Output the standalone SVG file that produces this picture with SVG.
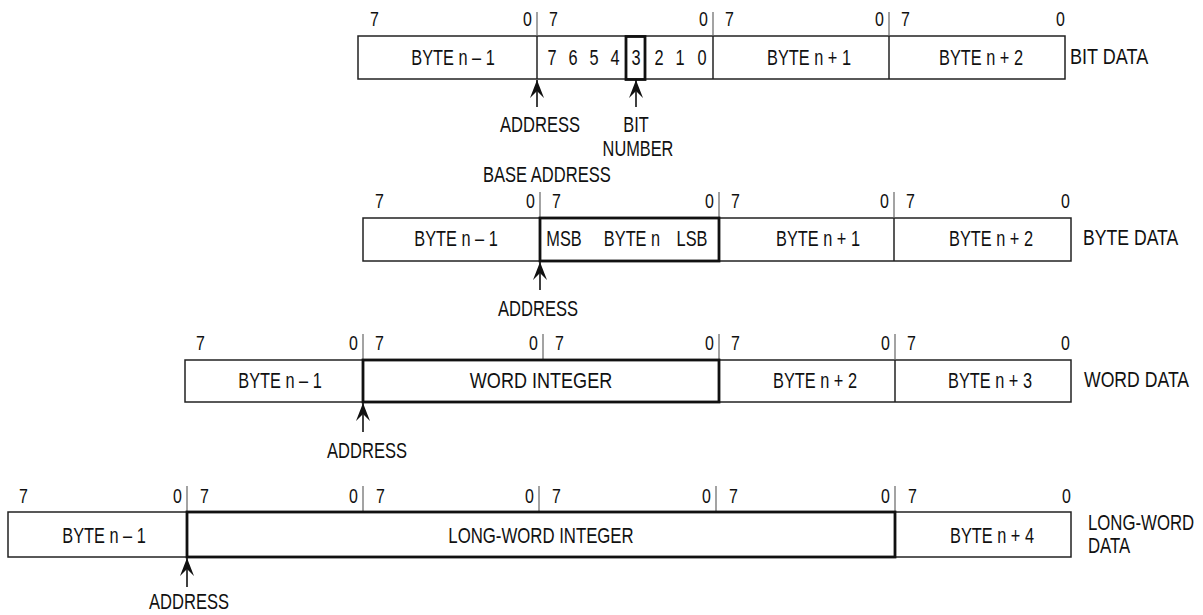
<svg xmlns="http://www.w3.org/2000/svg" width="1203" height="615" viewBox="0 0 1203 615">
  <defs>
    <style>
      text { font-family: "Liberation Sans", Arial, sans-serif; fill: #111; }
      .lbl { font-size: 21px; }
      .txt { font-size: 21.5px; }
      .mid { text-anchor: middle; }
      .end { text-anchor: end; }
      .cell { fill: #fff; stroke: #222; stroke-width: 1.5; }
      .bold { fill: none; stroke: #111; stroke-width: 2.8; }
      .tick { stroke: #666; stroke-width: 1.2; }
      .div { stroke: #222; stroke-width: 1.5; }
      .arrow { stroke: #111; stroke-width: 1.6; fill: none; marker-end: url(#head); }
    </style>
    <marker id="head" markerUnits="userSpaceOnUse" markerWidth="20" markerHeight="16" viewBox="-18 -8 19 16" refX="0" refY="0" orient="auto">
      <path d="M0,0 L-18,-7 L-11,0 L-18,7 Z" fill="#111"/>
    </marker>
  </defs>

  <!-- BIT DATA -->
  <g id="bit-data">
    <rect class="cell" x="358" y="36" width="707" height="43"/>
    <line class="tick" x1="537" y1="12" x2="537" y2="36"/>
    <line class="tick" x1="713" y1="12" x2="713" y2="36"/>
    <line class="tick" x1="889" y1="12" x2="889" y2="36"/>
    <line class="div" x1="537" y1="36" x2="537" y2="79"/>
    <line class="div" x1="713" y1="36" x2="713" y2="79"/>
    <line class="div" x1="889" y1="36" x2="889" y2="79"/>
    <rect class="bold" x="626" y="36.5" width="19" height="43" stroke-width="2.6"/>
    <text class="lbl" transform="translate(370 26) scale(.76 1)">7</text>
    <text class="lbl end" transform="translate(532 26) scale(.76 1)">0</text>
    <text class="lbl" transform="translate(549 26) scale(.76 1)">7</text>
    <text class="lbl end" transform="translate(708 26) scale(.76 1)">0</text>
    <text class="lbl" transform="translate(725 26) scale(.76 1)">7</text>
    <text class="lbl end" transform="translate(884 26) scale(.76 1)">0</text>
    <text class="lbl" transform="translate(901 26) scale(.76 1)">7</text>
    <text class="lbl end" transform="translate(1065 26) scale(.76 1)">0</text>
    <text class="txt mid" transform="translate(453 65) scale(.76 1)">BYTE n – 1</text>
    <text class="txt mid" transform="translate(552 65) scale(.76 1)">7</text>
    <text class="txt mid" transform="translate(573 65) scale(.76 1)">6</text>
    <text class="txt mid" transform="translate(594 65) scale(.76 1)">5</text>
    <text class="txt mid" transform="translate(615 65) scale(.76 1)">4</text>
    <text class="txt mid" transform="translate(636 65) scale(.76 1)">3</text>
    <text class="txt mid" transform="translate(659 65) scale(.76 1)">2</text>
    <text class="txt mid" transform="translate(680 65) scale(.76 1)">1</text>
    <text class="txt mid" transform="translate(702 65) scale(.76 1)">0</text>
    <text class="txt mid" transform="translate(809 65) scale(.76 1)">BYTE n + 1</text>
    <text class="txt mid" transform="translate(981 65) scale(.76 1)">BYTE n + 2</text>
    <text class="txt" transform="translate(1070 64) scale(.84 1)">BIT DATA</text>
    <text class="txt mid" transform="translate(540 132) scale(.77 1)">ADDRESS</text>
    <text class="txt mid" transform="translate(636 132) scale(.76 1)">BIT</text>
    <text class="txt mid" transform="translate(638 156) scale(.76 1)">NUMBER</text>
  </g>

  <!-- BYTE DATA -->
  <g id="byte-data">
    <text class="txt" transform="translate(483 182) scale(.77 1)">BASE ADDRESS</text>
    <rect class="cell" x="363" y="218" width="708" height="43"/>
    <line class="tick" x1="540" y1="192" x2="540" y2="218"/>
    <line class="tick" x1="719" y1="192" x2="719" y2="218"/>
    <line class="tick" x1="894" y1="192" x2="894" y2="218"/>
    <line class="div" x1="894" y1="218" x2="894" y2="261"/>
    <rect class="bold" x="540" y="218" width="179" height="43"/>
    <text class="lbl" transform="translate(375 208) scale(.76 1)">7</text>
    <text class="lbl end" transform="translate(535 208) scale(.76 1)">0</text>
    <text class="lbl" transform="translate(552 208) scale(.76 1)">7</text>
    <text class="lbl end" transform="translate(714 208) scale(.76 1)">0</text>
    <text class="lbl" transform="translate(731 208) scale(.76 1)">7</text>
    <text class="lbl end" transform="translate(889 208) scale(.76 1)">0</text>
    <text class="lbl" transform="translate(906 208) scale(.76 1)">7</text>
    <text class="lbl end" transform="translate(1070 208) scale(.76 1)">0</text>
    <text class="txt mid" transform="translate(456 246) scale(.76 1)">BYTE n – 1</text>
    <text class="txt mid" transform="translate(564 246) scale(.76 1)">MSB</text>
    <text class="txt mid" transform="translate(632 246) scale(.76 1)">BYTE n</text>
    <text class="txt mid" transform="translate(692 246) scale(.76 1)">LSB</text>
    <text class="txt mid" transform="translate(818 246) scale(.76 1)">BYTE n + 1</text>
    <text class="txt mid" transform="translate(991 246) scale(.76 1)">BYTE n + 2</text>
    <text class="txt" transform="translate(1083 245) scale(.82 1)">BYTE DATA</text>
    <text class="txt mid" transform="translate(538 316) scale(.77 1)">ADDRESS</text>
  </g>

  <!-- WORD DATA -->
  <g id="word-data">
    <rect class="cell" x="185" y="360" width="886" height="42"/>
    <line class="tick" x1="363" y1="334" x2="363" y2="360"/>
    <line class="tick" x1="543" y1="334" x2="543" y2="360"/>
    <line class="tick" x1="719" y1="334" x2="719" y2="360"/>
    <line class="tick" x1="895" y1="334" x2="895" y2="360"/>
    <line class="div" x1="895" y1="360" x2="895" y2="402"/>
    <rect class="bold" x="363" y="360" width="356" height="42"/>
    <text class="lbl" transform="translate(196 350) scale(.76 1)">7</text>
    <text class="lbl end" transform="translate(358 350) scale(.76 1)">0</text>
    <text class="lbl" transform="translate(375 350) scale(.76 1)">7</text>
    <text class="lbl end" transform="translate(538 350) scale(.76 1)">0</text>
    <text class="lbl" transform="translate(555 350) scale(.76 1)">7</text>
    <text class="lbl end" transform="translate(714 350) scale(.76 1)">0</text>
    <text class="lbl" transform="translate(731 350) scale(.76 1)">7</text>
    <text class="lbl end" transform="translate(890 350) scale(.76 1)">0</text>
    <text class="lbl" transform="translate(907 350) scale(.76 1)">7</text>
    <text class="lbl end" transform="translate(1070 350) scale(.76 1)">0</text>
    <text class="txt mid" transform="translate(280 388) scale(.76 1)">BYTE n – 1</text>
    <text class="txt mid" transform="translate(541 388) scale(.84 1)">WORD INTEGER</text>
    <text class="txt mid" transform="translate(815 388) scale(.76 1)">BYTE n + 2</text>
    <text class="txt mid" transform="translate(990 388) scale(.76 1)">BYTE n + 3</text>
    <text class="txt" transform="translate(1084 387) scale(.82 1)">WORD DATA</text>
    <text class="txt mid" transform="translate(367 458) scale(.77 1)">ADDRESS</text>
  </g>

  <!-- LONG-WORD DATA -->
  <g id="long-word-data">
    <rect class="cell" x="8" y="512" width="1063" height="45"/>
    <line class="tick" x1="187" y1="486" x2="187" y2="512"/>
    <line class="tick" x1="363" y1="486" x2="363" y2="512"/>
    <line class="tick" x1="539" y1="486" x2="539" y2="512"/>
    <line class="tick" x1="716" y1="486" x2="716" y2="512"/>
    <line class="tick" x1="895" y1="486" x2="895" y2="512"/>
    <rect class="bold" x="187" y="512" width="708" height="45"/>
    <text class="lbl" transform="translate(19 503) scale(.76 1)">7</text>
    <text class="lbl end" transform="translate(182 503) scale(.76 1)">0</text>
    <text class="lbl" transform="translate(200 503) scale(.76 1)">7</text>
    <text class="lbl end" transform="translate(358 503) scale(.76 1)">0</text>
    <text class="lbl" transform="translate(376 503) scale(.76 1)">7</text>
    <text class="lbl end" transform="translate(534 503) scale(.76 1)">0</text>
    <text class="lbl" transform="translate(552 503) scale(.76 1)">7</text>
    <text class="lbl end" transform="translate(711 503) scale(.76 1)">0</text>
    <text class="lbl" transform="translate(729 503) scale(.76 1)">7</text>
    <text class="lbl end" transform="translate(890 503) scale(.76 1)">0</text>
    <text class="lbl" transform="translate(908 503) scale(.76 1)">7</text>
    <text class="lbl end" transform="translate(1071 503) scale(.76 1)">0</text>
    <text class="txt mid" transform="translate(104 543) scale(.76 1)">BYTE n – 1</text>
    <text class="txt mid" transform="translate(541 543) scale(.78 1)">LONG-WORD INTEGER</text>
    <text class="txt mid" transform="translate(992 543) scale(.76 1)">BYTE n + 4</text>
    <text class="txt" transform="translate(1088 530) scale(.78 1)">LONG-WORD</text>
    <text class="txt" transform="translate(1088 553) scale(.78 1)">DATA</text>
    <text class="txt mid" transform="translate(189 609) scale(.77 1)">ADDRESS</text>
  </g>

  <!-- pointer arrows -->
  <g id="connectors">
    <line class="arrow" x1="537" y1="107" x2="537" y2="80"/>
    <line class="arrow" x1="636" y1="107" x2="636" y2="80"/>
    <line class="arrow" x1="540" y1="290" x2="540" y2="262"/>
    <line class="arrow" x1="363" y1="432" x2="363" y2="403"/>
    <line class="arrow" x1="187" y1="587" x2="187" y2="558"/>
  </g>
</svg>
